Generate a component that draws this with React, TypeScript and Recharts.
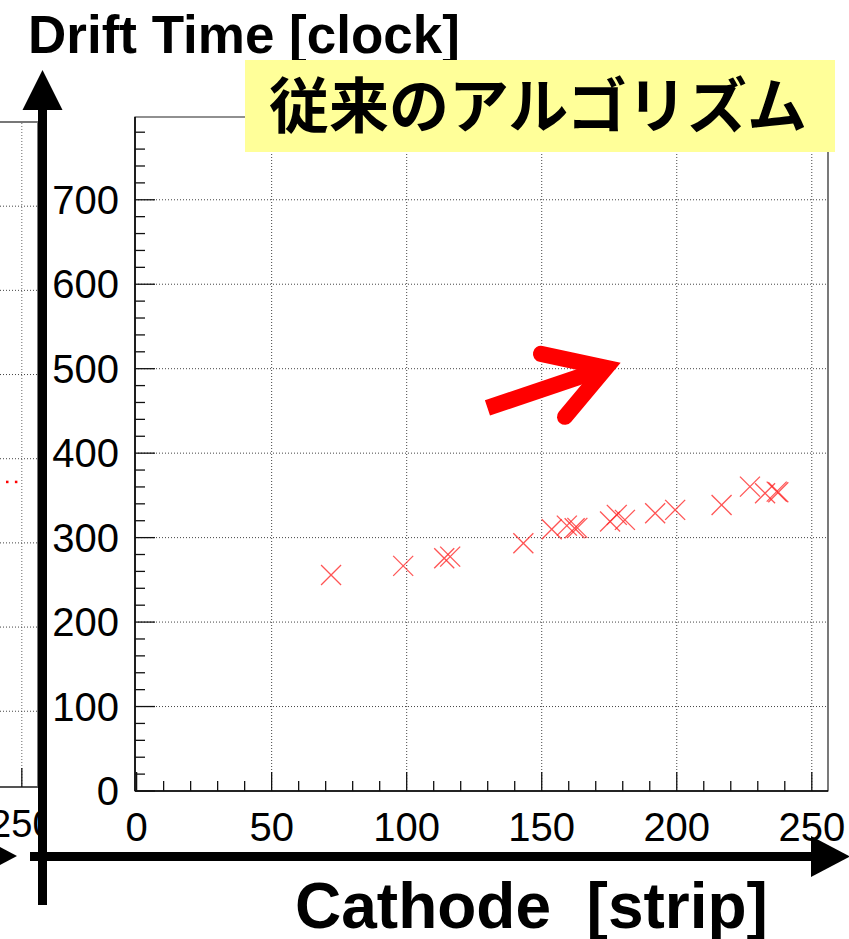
import React from "react";
import {
  ScatterChart,
  Scatter,
  XAxis,
  YAxis,
  ReferenceLine,
  ReferenceArea,
} from "recharts";

// hits: cathode strip vs drift time
const cathodeStrips = [
  72, 98.7, 113.9, 116.1, 143.2, 153.7, 159.3, 162.2, 163.2, 175.3, 177.8,
  180.8, 192, 199.4, 216.6, 227.1, 232.7, 237, 237.6,
];
const driftTimes = [
  255.8, 266.5, 275.6, 277.5, 293.4, 310, 314.2, 311.1, 311.5, 319, 326.9,
  321, 328.9, 332.8, 338.7, 360.4, 352.6, 354.5, 353.8,
];

// the neighbouring panel only shows its last two hits
const neighbourStrips = [244.5, 247.8];
const neighbourTimes = [372.7, 372.7];

// red annotation arrow, in data units
const arrowShaftX = [129.9, 171.6];
const arrowShaftY = [453.6, 498.6];
const arrowHeadX = [149.7, 173.8, 158.6];
const arrowHeadY = [517.6, 501, 443];

const xTicks = [
  0, 10, 20, 30, 40, 50, 60, 70, 80, 90, 100, 110, 120, 130, 140, 150, 160,
  170, 180, 190, 200, 210, 220, 230, 240, 250,
];
const xGrid = [50, 100, 150, 200, 250];
const yTicks = [
  0, 20, 40, 60, 80, 100, 120, 140, 160, 180, 200, 220, 240, 260, 280, 300,
  320, 340, 360, 380, 400, 420, 440, 460, 480, 500, 520, 540, 560, 580, 600,
  620, 640, 660, 680, 700, 720, 740, 760, 780,
];
const yGrid = [100, 200, 300, 400, 500, 600, 700];

const toPoints = (xs: number[], ys: number[]) =>
  xs.map((x, i) => ({ x, y: ys[i] }));

const hits = toPoints(cathodeStrips, driftTimes);
const neighbourHits = toPoints(neighbourStrips, neighbourTimes);
const arrowShaft = toPoints(arrowShaftX, arrowShaftY);
const arrowHead = toPoints(arrowHeadX, arrowHeadY);

const SANS = "'Liberation Sans', Arial, sans-serif";

const Cross = (props: any) => {
  const { cx, cy } = props;
  const s = 10;
  return (
    <g stroke="#ff2a2a" strokeWidth={1.3} opacity={0.8}>
      <line x1={cx - s} y1={cy - s} x2={cx + s} y2={cy + s} />
      <line x1={cx - s} y1={cy + s} x2={cx + s} y2={cy - s} />
    </g>
  );
};

const Dot = (props: any) => (
  <rect x={props.cx - 1} y={props.cy - 1} width={2.5} height={2.5} fill="#ff0000" />
);

const Nothing = () => <g />;

function makeXTick(bottom: number, fontSize: number) {
  return (props: any) => {
    const { x, payload } = props;
    const major = payload.value % 50 === 0;
    return (
      <g>
        <line x1={x} x2={x} y1={bottom} y2={bottom - (major ? 19 : 10)} stroke="#111" strokeWidth={1.3} />
        {major && (
          <text x={x} y={bottom + 50} textAnchor="middle" fontSize={fontSize} fontFamily={SANS} fill="#000">
            {payload.value}
          </text>
        )}
      </g>
    );
  };
}

function makeYTick(left: number) {
  return (props: any) => {
    const { y, payload } = props;
    const major = payload.value % 100 === 0;
    return (
      <g>
        <line x1={left} x2={left + (major ? 20 : 10)} y1={y} y2={y} stroke="#111" strokeWidth={1.3} />
        {major && (
          <text x={left - 16} y={y + 14} textAnchor="end" fontSize={40} fontFamily={SANS} fill="#000">
            {payload.value}
          </text>
        )}
      </g>
    );
  };
}

function MainPanel() {
  return (
    <ScatterChart width={849} height={939} margin={{ top: 117, right: 21, bottom: 0, left: 0 }}>
      <XAxis
        type="number"
        dataKey="x"
        domain={[-0.6, 256]}
        ticks={xTicks}
        interval={0}
        height={148}
        tickLine={false}
        axisLine={{ stroke: "#000", strokeWidth: 1.5 }}
        tick={makeXTick(791, 40)}
        allowDataOverflow
      />
      <YAxis
        type="number"
        dataKey="y"
        domain={[0, 798]}
        ticks={yTicks}
        interval={0}
        width={135}
        tickLine={false}
        axisLine={{ stroke: "#000", strokeWidth: 1.5 }}
        tick={makeYTick(135)}
        allowDataOverflow
      />
      <ReferenceArea x1={-0.6} x2={256} y1={0} y2={798} fill="none" stroke="#222" strokeWidth={1.2} />
      {xGrid.map((v) => (
        <ReferenceLine key={"x" + v} x={v} stroke="#444" strokeDasharray="1 2" />
      ))}
      {yGrid.map((v) => (
        <ReferenceLine key={"y" + v} y={v} stroke="#444" strokeDasharray="1 2" />
      ))}
      <Scatter data={hits} shape={Cross} isAnimationActive={false} />
      <Scatter
        data={arrowShaft}
        shape={Nothing}
        line={{ stroke: "#ff0000", strokeWidth: 16, strokeLinecap: "butt" }}
        isAnimationActive={false}
      />
      <Scatter
        data={arrowHead}
        shape={Nothing}
        line={{ stroke: "#ff0000", strokeWidth: 16, strokeLinecap: "round", strokeLinejoin: "miter" }}
        isAnimationActive={false}
      />
    </ScatterChart>
  );
}

function NeighbourPanel() {
  return (
    <ScatterChart width={849} height={939} margin={{ top: 122, right: 22, bottom: 0, left: 0 }}>
      <XAxis
        type="number"
        dataKey="x"
        domain={[-0.6, 256]}
        ticks={xTicks}
        interval={0}
        height={152}
        tickLine={false}
        axisLine={{ stroke: "#333", strokeWidth: 1.2 }}
        tick={makeXTick(787, 38)}
        allowDataOverflow
      />
      <YAxis
        type="number"
        dataKey="y"
        domain={[10, 800]}
        ticks={yGrid}
        interval={0}
        width={135}
        tickLine={false}
        axisLine={{ stroke: "#333" }}
        tick={false}
        allowDataOverflow
      />
      <ReferenceArea x1={-0.6} x2={256} y1={10} y2={800} fill="none" stroke="#777" strokeWidth={2} />
      {xGrid.map((v) => (
        <ReferenceLine key={"x" + v} x={v} stroke="#666" strokeDasharray="1 2" />
      ))}
      {yGrid.map((v) => (
        <ReferenceLine key={"y" + v} y={v} stroke="#444" strokeDasharray="1 2" />
      ))}
      <Scatter data={neighbourHits} shape={Dot} isAnimationActive={false} />
    </ScatterChart>
  );
}

export default function App() {
  return (
    <div
      style={{
        position: "absolute",
        left: 0,
        top: 0,
        width: 849,
        height: 939,
        background: "#fff",
        overflow: "hidden",
      }}
    >
      <div style={{ position: "absolute", left: 0, top: 0, width: 38, height: 939, overflow: "hidden" }}>
        <div style={{ position: "absolute", left: -789, top: 0 }}>
          <NeighbourPanel />
        </div>
      </div>
      <div style={{ position: "absolute", left: 0, top: 0 }}>
        <MainPanel />
      </div>
      <svg width={849} height={939} style={{ position: "absolute", left: 0, top: 0 }}>
        <text x={28} y={53} fontSize={53} fontWeight="bold" fontFamily={SANS} fill="#000">
          Drift Time [clock]
        </text>

        {/* axis arrows */}
        <line x1={42.5} x2={42.5} y1={105} y2={905} stroke="#000" strokeWidth={9} />
        <polygon points="42.5,70 22.5,110 62.5,110" fill="#000" />
        <line x1={30} x2={815} y1={856.5} y2={856.5} stroke="#000" strokeWidth={9} />
        <polygon points="811,836 811,877 850,856.5" fill="#000" />
        <line x1={-60} x2={-18} y1={856} y2={856} stroke="#000" strokeWidth={9} />
        <polygon points="-21,836 -21,876 17,856" fill="#000" />

        <rect x={245} y={60} width={590} height={92} fill="#ffff99" />
        <text
          x={538}
          y={128}
          textAnchor="middle"
          fontSize={60}
          fontWeight="bold"
          fontFamily="'Noto Sans CJK JP', sans-serif"
          fill="#000"
        >
          従来のアルゴリズム
        </text>

        <text
          x={295}
          y={928}
          fontSize={64}
          fontWeight="bold"
          fontFamily={SANS}
          fill="#000"
          style={{ whiteSpace: "pre" }}
        >
          {"Cathode  [strip]"}
        </text>
      </svg>
    </div>
  );
}
